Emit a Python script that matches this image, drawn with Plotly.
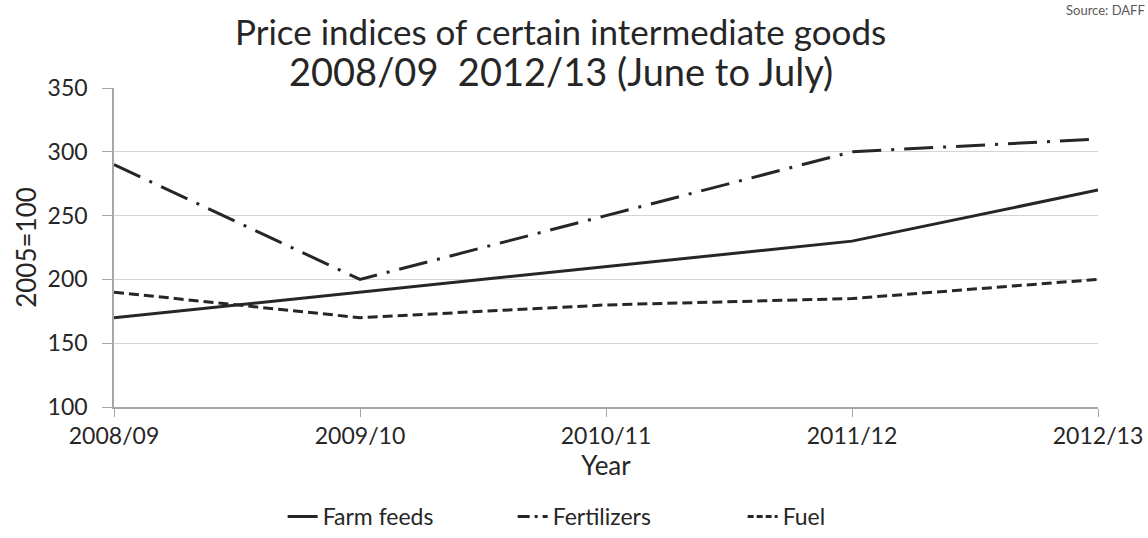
import plotly.graph_objects as go

years = ["2008/09", "2009/10", "2010/11", "2011/12", "2012/13"]
farm_feeds = [170, 190, 210, 230, 270]
fertilizers = [290, 200, 250, 300, 310]
fuel = [190, 170, 180, 185, 200]

series_names = ["Farm feeds", "Fertilizers", "Fuel"]
title_line1 = "Price indices of certain intermediate goods"
title_line2 = "2008/09  2012/13 (June to July)"
source_text = "Source: DAFF"

FONT = "Lato, 'Open Sans', sans-serif"
dark = "#262626"

line_dash = ["solid", "29px,10px,3px,10px", "10px,5px"]
legend_dash = ["solid", "12px,5px,3px,5px", "6px,3px"]
series = [farm_feeds, fertilizers, fuel]

fig = go.Figure()
for name, vals, d in zip(series_names, series, line_dash):
    fig.add_trace(go.Scatter(x=years, y=vals, name=name, mode="lines", showlegend=False,
                             line=dict(color=dark, width=3, dash=d)))
# legend-only entries (short sample needs a compressed dash pattern)
for name, d in zip(series_names, legend_dash):
    fig.add_trace(go.Scatter(x=[None], y=[None], name=name, mode="lines", showlegend=True,
                             line=dict(color=dark, width=3, dash=d)))

fig.update_layout(
    width=1148, height=538,
    margin=dict(l=114, r=50, t=88, b=131),
    paper_bgcolor="white", plot_bgcolor="white",
    font=dict(family=FONT, color="#262626", size=20),
    showlegend=True,
    legend=dict(orientation="h", x=0.522, xanchor="center", yref="container", y=-0.012,
                yanchor="bottom", font=dict(size=23), tracegroupgap=0,
                entrywidth=185, entrywidthmode="pixels"),
    xaxis=dict(type="category", range=[0, 4], showgrid=False, showline=True,
               linecolor="#a6a6a6", linewidth=1.5, ticks="outside", ticklen=8,
               tickcolor="#a6a6a6", tickfont=dict(size=23), automargin=False,
               title=dict(text="Year", font=dict(size=26), standoff=5)),
    yaxis=dict(range=[100, 350], dtick=50, showgrid=True, gridcolor="#d4d4d4",
               gridwidth=1, showline=True, linecolor="#a6a6a6", linewidth=1.5,
               ticks="outside", ticklen=10, tickcolor="#a6a6a6", zeroline=False,
               tickfont=dict(size=23), automargin=False, ticklabelstandoff=10,
               title=dict(text="2005=100", font=dict(size=26), standoff=4)),
    annotations=[
        dict(text=title_line1, xref="paper", yref="paper", x=0.454, y=1.180,
             xanchor="center", yanchor="middle", showarrow=False,
             font=dict(size=35, color="#262626")),
        dict(text=title_line2, xref="paper", yref="paper", x=0.454, y=1.052,
             xanchor="center", yanchor="middle", showarrow=False,
             font=dict(size=38, color="#262626")),
        dict(text=source_text, xref="paper", yref="paper", x=1.05, y=1.276,
             xanchor="right", yanchor="top", showarrow=False,
             font=dict(size=13, color="#595959")),
    ],
)

fig.write_html("out.html", config={"displayModeBar": False},
               post_script="document.body.style.margin='0';")
